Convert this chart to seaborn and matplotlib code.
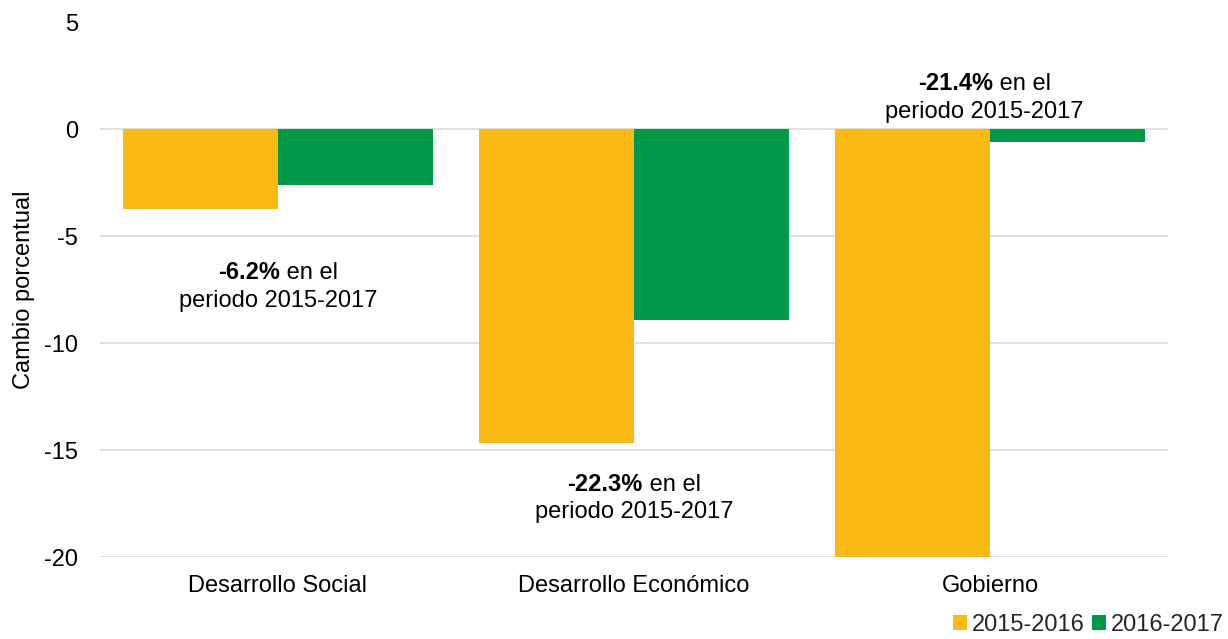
import matplotlib
matplotlib.use("Agg")
import matplotlib.pyplot as plt
import pandas as pd
import seaborn as sns
from matplotlib.offsetbox import AnnotationBbox, HPacker, TextArea, VPacker

categories = ["Desarrollo Social", "Desarrollo Económico", "Gobierno"]
periods = ["2015-2016", "2016-2017"]
values_2015_2016 = [-3.7, -14.65, -20.1]
values_2016_2017 = [-2.6, -8.9, -0.6]
notes = ["-6.2%", "-22.3%", "-21.4%"]
note_x = [0.0, 0.0, -0.015]
note_y = [-7.35, -17.25, 1.5]

df = pd.DataFrame({
    "sector": categories * 2,
    "periodo": [periods[0]] * 3 + [periods[1]] * 3,
    "cambio": values_2015_2016 + values_2016_2017,
})

FS = 17

sns.set_theme(style="white")
plt.rcParams["font.family"] = ["Liberation Sans", "DejaVu Sans"]
plt.rcParams["axes.unicode_minus"] = False

fig = plt.figure(figsize=(12.28, 6.39), dpi=100)
ax = fig.add_axes([100 / 1228, 1 - 557 / 639, 1068 / 1228, (557 - 22.5) / 639])

sns.barplot(
    data=df, x="sector", y="cambio", hue="periodo",
    palette=["#FBB913", "#00994A"], width=0.87, saturation=1,
    ax=ax, legend=True,
)
for patch in ax.patches:
    patch.set_linewidth(0)

ax.set_ylim(-20, 5)
ax.set_xlim(-0.5, 2.5)
ax.set_yticks([5, 0, -5, -10, -15, -20])
ax.yaxis.grid(True, color="#D9D9D9", linewidth=1.2)
ax.set_axisbelow(True)
for side in ["top", "right", "left", "bottom"]:
    ax.spines[side].set_visible(False)
ax.tick_params(axis="both", length=0, labelsize=FS, colors="black")
ax.tick_params(axis="y", pad=16)
ax.tick_params(axis="x", pad=13)
ax.set_xlabel("")
ax.set_ylabel("Cambio porcentual", fontsize=FS, color="black", labelpad=6)

for i, (note, dx, y) in enumerate(zip(notes, note_x, note_y)):
    bold = TextArea(note, textprops=dict(fontsize=FS, fontweight="bold", color="black"))
    rest = TextArea(" en el", textprops=dict(fontsize=FS, color="black"))
    line1 = HPacker(children=[bold, rest], align="baseline", pad=0, sep=0)
    line2 = TextArea("periodo 2015-2017", textprops=dict(fontsize=FS, color="black"))
    block = VPacker(children=[line1, line2], align="center", pad=0, sep=4)
    ab = AnnotationBbox(block, (i + dx, y), xycoords="data", frameon=False,
                        box_alignment=(0.5, 0.5), pad=0)
    ax.add_artist(ab)

handles, labels = ax.get_legend_handles_labels()
ax.get_legend().remove()
fig.legend(
    handles, labels, loc="lower right", bbox_to_anchor=(1.008, -0.017),
    ncol=2, frameon=False, fontsize=FS, handlelength=0.6, handleheight=0.6,
    handletextpad=0.2, columnspacing=0.3, borderaxespad=0.2,
)

fig.savefig("out.png", dpi=100)
